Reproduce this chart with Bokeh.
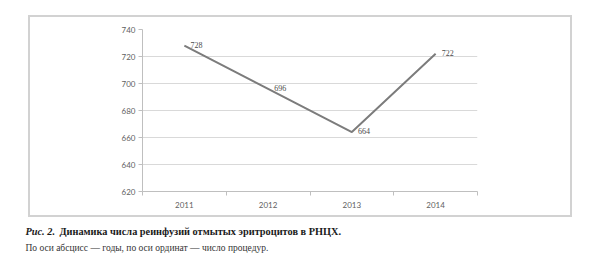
from bokeh.plotting import figure
from bokeh.layouts import column, row
from bokeh.models import ColumnDataSource, Range1d, FixedTicker, LabelSet, Label
from bokeh.embed import file_html
from bokeh.resources import INLINE

years = ["2011", "2012", "2013", "2014"]
procedures = [728, 696, 664, 722]
y_ticks = [620, 640, 660, 680, 700, 720, 740]
caption_bold_italic = "Рис. 2."
caption_bold = "Динамика числа реинфузий отмытых эритроцитов в РНЦХ."
caption_note = "По оси абсцисс — годы, по оси ординат — число процедур."

pos = list(range(1, len(years) + 1))
src = ColumnDataSource(dict(x=pos, y=procedures, lbl=[str(v) for v in procedures]))

# ---- chart (inside a light grey box) ----
p = figure(width=544, height=202, output_backend="svg", toolbar_location=None,
           x_range=Range1d(0.5, len(years) + 0.5), y_range=Range1d(620, 740),
           min_border_left=114, min_border_right=95, min_border_top=14,
           min_border_bottom=26)
p.margin = (15, 0, 0, 28)
p.styles = {"background": "white", "box-shadow": "inset 0 0 0 2px #d2d2d2"}
p.outline_line_color = None
p.background_fill_color = None
p.border_fill_color = None

p.line("x", "y", source=src, line_color="#7c7c7c", line_width=2)

p.add_layout(LabelSet(x="x", y="y", text="lbl", source=src, x_offset=6, y_offset=1,
                      text_baseline="middle", text_font="Lato", text_font_size="8px",
                      text_color="#4a4a4a"))

p.xaxis.ticker = FixedTicker(ticks=pos, minor_ticks=[v + 0.5 for v in [0] + pos])
p.xaxis.major_label_overrides = {i: y for i, y in zip(pos, years)}
p.xaxis.major_tick_line_color = None
p.xaxis.major_tick_out = 0
p.xaxis.major_tick_in = 0
p.xaxis.minor_tick_line_color = "#bfbfbf"
p.xaxis.minor_tick_out = 4
p.xaxis.minor_tick_in = 0
p.xaxis.axis_line_color = "#bfbfbf"
p.xaxis.major_label_standoff = 6

p.yaxis.ticker = FixedTicker(ticks=y_ticks)
p.yaxis.minor_tick_line_color = None
p.yaxis.major_tick_line_color = "#bfbfbf"
p.yaxis.major_tick_out = 4
p.yaxis.major_tick_in = 0
p.yaxis.axis_line_color = "#bfbfbf"
p.yaxis.major_label_standoff = 3

for ax in (p.xaxis, p.yaxis):
    ax.major_label_text_font = "Lato"
    ax.major_label_text_font_size = "8px"
    ax.major_label_text_color = "#5f5f5f"

p.xgrid.grid_line_color = None
p.ygrid.grid_line_color = "#d9d9d9"
p.ygrid.ticker = FixedTicker(ticks=y_ticks)

# ---- caption ----
c = figure(width=600, height=41, output_backend="svg", toolbar_location=None,
           x_range=Range1d(0, 600), y_range=Range1d(41, 0),
           x_axis_location=None, y_axis_location=None,
           min_border_left=0, min_border_right=0, min_border_top=0,
           min_border_bottom=0)
c.outline_line_color = None
c.grid.visible = False
c.background_fill_color = None
c.border_fill_color = None

c.add_layout(Label(x=25, y=14, text=caption_bold_italic, text_font="Liberation Serif",
                   text_font_style="bold italic", text_font_size="10.3px",
                   text_baseline="middle", text_color="#1a1a1a"))
c.add_layout(Label(x=59, y=14, text=caption_bold, text_font="Liberation Serif",
                   text_font_style="bold", text_font_size="10.3px",
                   text_baseline="middle", text_color="#1a1a1a"))
c.add_layout(Label(x=25, y=30, text=caption_note, text_font="Liberation Serif",
                   text_font_size="9.5px",
                   text_baseline="middle", text_color="#333333"))

layout = column(row(p), row(c), spacing=0)
open("out.html", "w").write(file_html(layout, INLINE))
